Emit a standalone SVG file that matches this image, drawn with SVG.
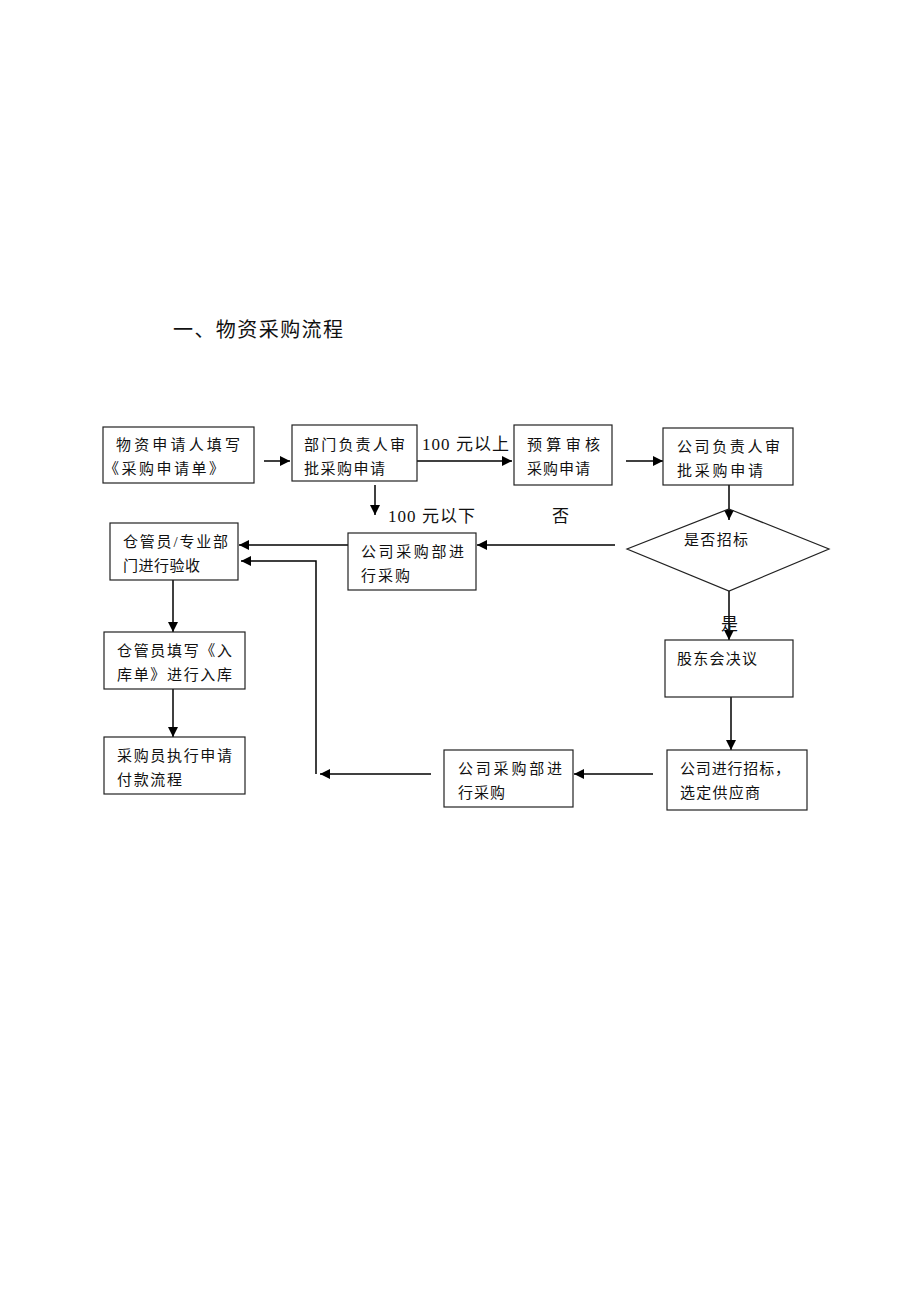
<svg xmlns="http://www.w3.org/2000/svg" width="920" height="1302" viewBox="0 0 920 1302">
<defs>
<marker id="ah" viewBox="0 0 10 10" refX="10" refY="5" markerWidth="10" markerHeight="10" markerUnits="userSpaceOnUse" orient="auto">
<path d="M0,0 L10,5 L0,10 Z" fill="#000"/>
</marker>
<style>
.box{fill:#fff;stroke:#222;stroke-width:1.2}
.t{font-family:"Liberation Serif","Noto Sans CJK SC",serif;font-size:15px;fill:#111}
.l{font-family:"Liberation Serif","Noto Sans CJK SC",serif;font-size:17px;fill:#111}
.c{fill:none;stroke:#000;stroke-width:1.5}
.a{fill:none;stroke:#000;stroke-width:1.5;marker-end:url(#ah)}
</style>
</defs>
<rect width="920" height="1302" fill="#fff"/>
<text x="173" y="337" textLength="170" lengthAdjust="spacing" style="font-family:'Liberation Serif','Noto Sans CJK SC',serif;font-size:20px;fill:#111">一、物资采购流程</text>

<g id="connectors">
<line class="a" x1="264" y1="461" x2="290" y2="461"/>
<line class="a" x1="417" y1="461" x2="512" y2="461"/>
<line class="a" x1="375" y1="485" x2="375" y2="515"/>
<line class="a" x1="626" y1="461" x2="663" y2="461"/>
<line class="a" x1="729" y1="470" x2="729" y2="520"/>
<line class="a" x1="615" y1="545" x2="477" y2="545"/>
<line class="a" x1="348" y1="545" x2="239" y2="545"/>
<polyline class="a" points="316,774 316,561 241,561"/>
<line class="a" x1="729" y1="591" x2="729" y2="640"/>
<line class="a" x1="731" y1="697" x2="731" y2="750"/>
<line class="a" x1="653" y1="774" x2="574" y2="774"/>
<line class="a" x1="431" y1="774" x2="320" y2="774"/>
<line class="a" x1="173" y1="580" x2="173" y2="632"/>
<line class="a" x1="173" y1="689" x2="173" y2="737"/>
<text class="l" x="422" y="450" textLength="87" lengthAdjust="spacing">100 元以上</text>
<text class="l" x="388" y="522" textLength="87" lengthAdjust="spacing">100 元以下</text>
<text class="l" x="552" y="522">否</text>
<text class="l" x="721" y="630">是</text>
</g>

<g id="n1">
<rect class="box" x="103" y="427" width="151" height="56"/>
<text class="t" x="116" y="450" textLength="124" lengthAdjust="spacing">物资申请人填写</text>
<text class="t" x="104" y="474" textLength="120" lengthAdjust="spacing">《采购申请单》</text>
</g>
<g id="n2">
<rect class="box" x="292" y="425" width="125" height="56"/>
<text class="t" x="304" y="450" textLength="101" lengthAdjust="spacing">部门负责人审</text>
<text class="t" x="304" y="474" textLength="81" lengthAdjust="spacing">批采购申请</text>
</g>
<g id="n3">
<rect class="box" x="514" y="425" width="98" height="60"/>
<text class="t" x="527" y="450" textLength="73" lengthAdjust="spacing">预算审核</text>
<text class="t" x="527" y="474" textLength="63" lengthAdjust="spacing">采购申请</text>
</g>
<g id="n4">
<rect class="box" x="663" y="428" width="130" height="57"/>
<text class="t" x="677" y="452" textLength="103" lengthAdjust="spacing">公司负责人审</text>
<text class="t" x="677" y="476" textLength="86" lengthAdjust="spacing">批采购申请</text>
</g>
<g id="n5">
<rect class="box" x="110" y="523" width="128" height="57"/>
<text class="t" x="123" y="547" textLength="105" lengthAdjust="spacing">仓管员/专业部</text>
<text class="t" x="123" y="571" textLength="77" lengthAdjust="spacing">门进行验收</text>
</g>
<g id="n6">
<rect class="box" x="348" y="533" width="128" height="57"/>
<text class="t" x="361" y="557" textLength="103" lengthAdjust="spacing">公司采购部进</text>
<text class="t" x="361" y="581" textLength="49" lengthAdjust="spacing">行采购</text>
</g>
<g id="n7">
<polygon points="729,509 829,549 729,591 627,549" fill="none" stroke="#222" stroke-width="1.2"/>
<text class="t" x="684" y="545" textLength="64" lengthAdjust="spacing">是否招标</text>
</g>
<g id="n8">
<rect class="box" x="665" y="640" width="128" height="57"/>
<text class="t" x="677" y="664" textLength="80" lengthAdjust="spacing">股东会决议</text>
</g>
<g id="n9">
<rect class="box" x="667" y="750" width="140" height="60"/>
<text class="t" x="680" y="774" textLength="110" lengthAdjust="spacing">公司进行招标，</text>
<text class="t" x="680" y="798" textLength="80" lengthAdjust="spacing">选定供应商</text>
</g>
<g id="n10">
<rect class="box" x="444" y="750" width="129" height="57"/>
<text class="t" x="458" y="774" textLength="104" lengthAdjust="spacing">公司采购部进</text>
<text class="t" x="458" y="798" textLength="47" lengthAdjust="spacing">行采购</text>
</g>
<g id="n11">
<rect class="box" x="104" y="632" width="141" height="57"/>
<text class="t" x="117" y="656" textLength="115" lengthAdjust="spacing">仓管员填写《入</text>
<text class="t" x="117" y="680" textLength="115" lengthAdjust="spacing">库单》进行入库</text>
</g>
<g id="n12">
<rect class="box" x="104" y="737" width="141" height="57"/>
<text class="t" x="117" y="761" textLength="115" lengthAdjust="spacing">采购员执行申请</text>
<text class="t" x="117" y="785" textLength="65" lengthAdjust="spacing">付款流程</text>
</g>
</svg>
